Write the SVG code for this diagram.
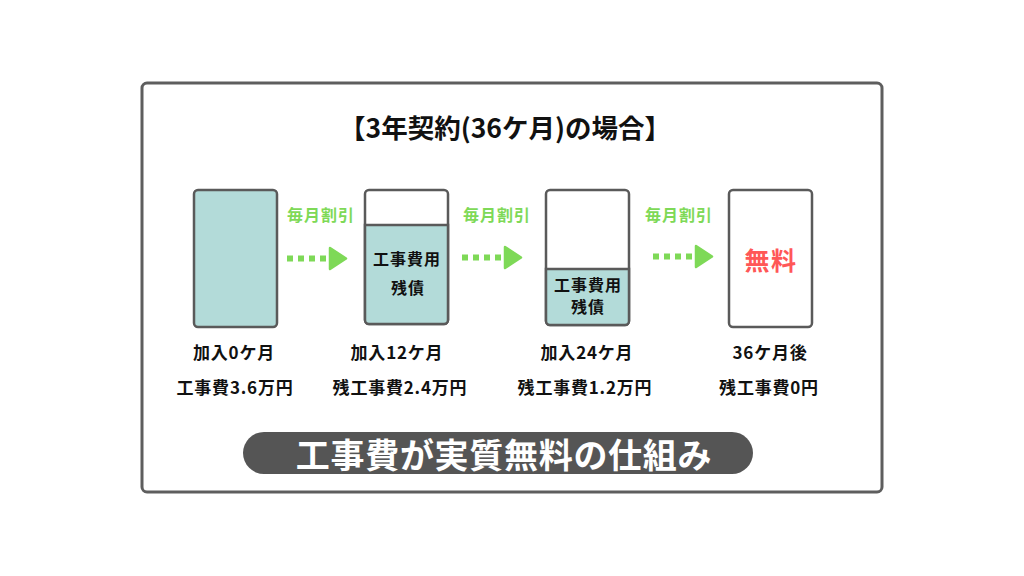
<svg xmlns="http://www.w3.org/2000/svg" xmlns:xlink="http://www.w3.org/1999/xlink" width="1024" height="576" viewBox="0 0 1024 576">
<style>
text{font-family:"Noto Sans CJK JP","Noto Sans",sans-serif;font-weight:700;text-anchor:middle}
.frame{fill:#fff;stroke:#5e5e5e;stroke-width:3}
.box{fill:#fff;stroke:#5a5a5a;stroke-width:2.5}
.teal{fill:#b3dbd9;stroke:#5a5a5a;stroke-width:2.5}
.lbl{font-size:17px;fill:#111;letter-spacing:0.8px}
.inner{font-size:16px;fill:#111;letter-spacing:1px}
.green{font-size:16px;fill:#7ed957;letter-spacing:1px}
.arr{fill:#7ed957;stroke:#7ed957}
</style>
<defs>
<g id="arrow">
<rect x="0" y="-3" width="6" height="6" class="arr" stroke-width="0"/>
<rect x="11" y="-3" width="6" height="6" class="arr" stroke-width="0"/>
<rect x="22" y="-3" width="6" height="6" class="arr" stroke-width="0"/>
<rect x="33" y="-3" width="6" height="6" class="arr" stroke-width="0"/>
<polygon points="43,-10.5 59,0 43,10.5" class="arr" stroke-width="2.5" stroke-linejoin="round"/>
</g>
</defs>
<rect width="1024" height="576" fill="#fff"/>
<rect class="frame" x="142" y="83" width="740" height="409" rx="5"/>
<text x="505" y="138" style="font-size:26.5px;fill:#111">【3年契約(36ケ月)の場合】</text>

<g id="node-0m">
<rect class="teal" x="194" y="190" width="83" height="137" rx="4"/>
<text class="lbl" x="234" y="359">加入0ケ月</text>
<text class="lbl" x="235" y="394">工事費3.6万円</text>
</g>
<g id="node-12m">
<rect class="box" x="365" y="190" width="83" height="134" rx="4"/>
<path class="teal" d="M365,225 H448 V320 a4,4 0 0 1 -4,4 H369 a4,4 0 0 1 -4,-4 Z"/>
<text class="inner" x="407" y="265">工事費用</text>
<text class="inner" x="408" y="294">残債</text>
<text class="lbl" x="397" y="359">加入12ケ月</text>
<text class="lbl" x="400" y="394">残工事費2.4万円</text>
</g>
<g id="node-24m">
<rect class="box" x="546" y="190" width="83" height="135" rx="4"/>
<path class="teal" d="M546,269 H629 V321 a4,4 0 0 1 -4,4 H550 a4,4 0 0 1 -4,-4 Z"/>
<text class="inner" x="588" y="291">工事費用</text>
<text class="inner" x="588" y="313">残債</text>
<text class="lbl" x="587" y="359">加入24ケ月</text>
<text class="lbl" x="585" y="394">残工事費1.2万円</text>
</g>
<g id="node-36m">
<rect class="box" x="729" y="190" width="83" height="137" rx="4"/>
<text x="771" y="270" style="font-size:25px;fill:#ff5757;letter-spacing:1.5px">無料</text>
<text class="lbl" x="770" y="359">36ケ月後</text>
<text class="lbl" x="769" y="394">残工事費0円</text>
</g>

<g id="connectors">
<use xlink:href="#arrow" href="#arrow" transform="translate(287,258.5)"/>
<use xlink:href="#arrow" href="#arrow" transform="translate(462,257.5)"/>
<use xlink:href="#arrow" href="#arrow" transform="translate(653,256.5)"/>
<text class="green" x="321" y="221">毎月割引</text>
<text class="green" x="497" y="221">毎月割引</text>
<text class="green" x="679" y="221">毎月割引</text>
</g>

<g id="banner">
<rect x="243" y="432" width="510" height="42" rx="21" fill="#555"/>
<text x="504" y="468" style="font-size:34px;fill:#fff;letter-spacing:0.7px">工事費が実質無料の仕組み</text>
</g>
</svg>
